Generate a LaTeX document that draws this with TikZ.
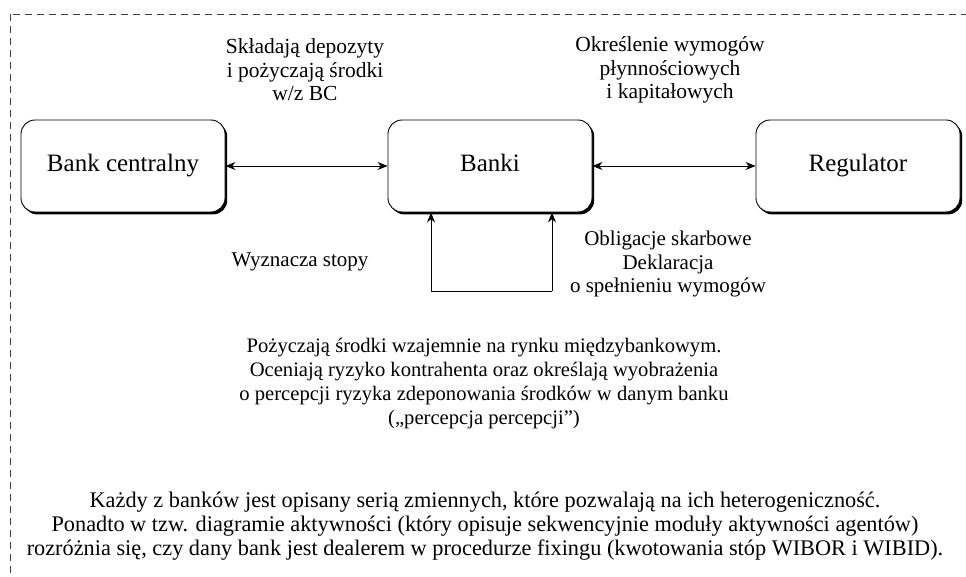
\documentclass[tikz,border=0pt]{standalone}
\usepackage{fontspec}
\setmainfont{Liberation Serif}
\usetikzlibrary{arrows.meta,shadows}
\begin{document}
\begin{tikzpicture}[x=1pt,y=-1pt,
  agent/.style={draw=black, line width=0.9pt, fill=white, rounded corners=14pt,
    minimum width=204pt, minimum height=92pt, inner sep=0pt, text height=17pt, text depth=5pt,
    font=\fontsize{25}{28}\selectfont,
    drop shadow={shadow xshift=2.2pt, shadow yshift=-2.4pt, fill=black, opacity=1}},
  lbl/.style={align=center, inner sep=0pt, font=\fontsize{21.5}{23.6}\selectfont},
  conn/.style={line width=0.8pt, {Stealth[length=10pt,width=8pt]}-{Stealth[length=10pt,width=8pt]}},
  up/.style={line width=0.8pt, -{Stealth[length=10pt,width=8pt]}},
  frame/.style={draw=black!75, line width=0.8pt, dash pattern=on 7pt off 5pt}]
\useasboundingbox (0,0) rectangle (966,577);
\begin{scope}
\clip (0,0) rectangle (966,577);
\draw[frame] (10,14) rectangle (975,590);
\end{scope}
\node[agent] (bc) at (123,166) {Bank centralny};
\node[agent] (b) at (490,166) {Banki};
\node[agent] (r) at (858,166) {Regulator};
\draw[conn] (bc.east) -- (b.west);
\draw[conn] (b.east) -- (r.west);
\coordinate (l1) at (431,291);
\coordinate (l2) at (552,291);
\draw[up] (l1) -- (l1 |- b.south);
\draw[up] (l2) -- (l2 |- b.south);
\draw[line width=0.8pt] (l1) -- (l2);
\node[lbl] (t1) at (305,70) {Składają depozyty\\i pożyczają środki\\w/z BC};
\node[lbl] (t2) at (670,70) {Określenie wymogów\\płynnościowych\\i kapitałowych};
\node[lbl, font=\fontsize{21}{23.8}\selectfont] (t3) at (300,262) {Wyznacza stopy};
\node[lbl, font=\fontsize{21}{23.8}\selectfont] (t4) at (668,264) {Obligacje skarbowe\\Deklaracja\\o spełnieniu wymogów};
\node[lbl, font=\fontsize{20.6}{24}\selectfont] (t5) at (484,384) {Pożyczają środki wzajemnie na rynku międzybankowym.\\Oceniają ryzyko kontrahenta oraz określają wyobrażenia\\o percepcji ryzyka zdeponowania środków w danym banku\\(„percepcja percepcji”)};
\node[lbl, font=\fontsize{22.3}{24}\selectfont] (t6) at (485,526) {Każdy z banków jest opisany serią zmiennych, które pozwalają na ich heterogeniczność.\\Ponadto w tzw. diagramie aktywności (który opisuje sekwencyjnie moduły aktywności agentów)\\rozróżnia się, czy dany bank jest dealerem w procedurze fixingu (kwotowania stóp WIBOR i WIBID).};
\end{tikzpicture}
\end{document}
